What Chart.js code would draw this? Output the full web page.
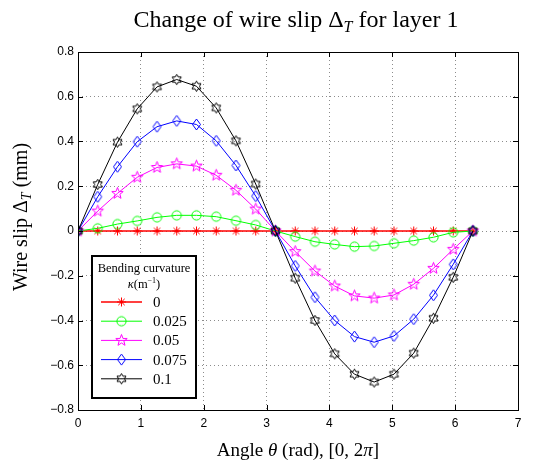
<!DOCTYPE html>
<html>
<head>
<meta charset="utf-8">
<script src="https://cdn.jsdelivr.net/npm/chart.js@4.4.1/dist/chart.umd.min.js"></script>
<style>
  html, body { margin: 0; padding: 0; background: #fff; }
</style>
</head>
<body>
<canvas id="grafico" width="539" height="466"></canvas>
<script>
// angulo theta (rad), 21 pontos em [0, 2pi]
const angulos = [0, 0.314, 0.628, 0.942, 1.257, 1.571, 1.885, 2.199, 2.513, 2.827, 3.142,
  3.456, 3.770, 4.084, 4.398, 4.712, 5.027, 5.341, 5.655, 5.969, 6.283];

// deslizamento do fio (mm) para cada curvatura
const slip0 = [0, 0, 0, 0, 0, 0, 0, 0, 0, 0, 0, 0, 0, 0, 0, 0, 0, 0, 0, 0, 0];
const slip025 = [0, 0.012, 0.031, 0.045, 0.061, 0.07, 0.07, 0.064, 0.046, 0.027, 0,
  -0.025, -0.048, -0.06, -0.07, -0.067, -0.055, -0.043, -0.028, -0.006, 0];
const slip05 = [0, 0.089, 0.168, 0.24, 0.284, 0.30, 0.29, 0.249, 0.182, 0.098, 0,
  -0.092, -0.179, -0.246, -0.29, -0.30, -0.286, -0.238, -0.167, -0.082, 0];
const slip075 = [0, 0.153, 0.287, 0.399, 0.466, 0.492, 0.476, 0.403, 0.293, 0.156, 0,
  -0.156, -0.296, -0.40, -0.472, -0.497, -0.469, -0.394, -0.287, -0.149, 0];
const slip1 = [0, 0.208, 0.397, 0.546, 0.644, 0.677, 0.647, 0.55, 0.403, 0.21, 0,
  -0.211, -0.40, -0.549, -0.64, -0.675, -0.64, -0.546, -0.39, -0.207, 0];

const curvaturas = ['0', '0.025', '0.05', '0.075', '0.1'];
const yTickLabels = ['\u22120.8', '\u22120.6', '\u22120.4', '\u22120.2', '0', '0.2', '0.4', '0.6', '0.8'];

const serif = "'Liberation Serif', 'Times New Roman', serif";
const sans = "'Liberation Sans', Arial, sans-serif";

// marcadores estilo matlab
function marcador(tipo, cor) {
  const c = document.createElement('canvas');
  c.width = c.height = 15;
  const ctx = c.getContext('2d');
  const m = 7.5;
  ctx.strokeStyle = cor;
  ctx.lineWidth = 1;
  ctx.beginPath();
  if (tipo === 'asterisco') {
    const r = 4.5;
    for (let i = 0; i < 4; i++) {
      const a = i * Math.PI / 4;
      ctx.moveTo(m - r * Math.cos(a), m - r * Math.sin(a));
      ctx.lineTo(m + r * Math.cos(a), m + r * Math.sin(a));
    }
  } else if (tipo === 'circulo') {
    ctx.arc(m, m, 4.6, 0, Math.PI * 2);
  } else if (tipo === 'losango') {
    ctx.moveTo(m, m - 5.5); ctx.lineTo(m + 4, m); ctx.lineTo(m, m + 5.5); ctx.lineTo(m - 4, m);
    ctx.closePath();
  } else {
    const pontas = tipo === 'pentagrama' ? 5 : 6;
    const rOut = tipo === 'pentagrama' ? 6 : 5.2;
    const rIn = tipo === 'pentagrama' ? 2.5 : 5.2 / Math.sqrt(3);
    for (let i = 0; i < pontas * 2; i++) {
      const r = i % 2 ? rIn : rOut;
      const a = -Math.PI / 2 + i * Math.PI / pontas;
      ctx.lineTo(m + r * Math.cos(a), m + r * Math.sin(a));
    }
    ctx.closePath();
  }
  ctx.stroke();
  return c;
}

const series = [slip0, slip025, slip05, slip075, slip1];
const cores = ['#ff0000', '#00ff00', '#ff00ff', '#0000ff', '#000000'];
const tipos = ['asterisco', 'circulo', 'pentagrama', 'losango', 'hexagrama'];

const datasets = series.map((s, i) => ({
  label: curvaturas[i],
  data: s.map((v, j) => ({ x: angulos[j], y: v })),
  borderColor: cores[i],
  borderWidth: i === 0 ? 1.5 : 1,
  pointStyle: marcador(tipos[i], cores[i]),
  pointRadius: 5,
  tension: 0,
  order: 4 - i
}));

// texto com partes (subscrito, italico)
function textoPartes(ctx, partes, cx, cy) {
  let total = 0;
  partes.forEach(p => { ctx.font = p.f; p.w = ctx.measureText(p.t).width; total += p.w; });
  let x = cx - total / 2;
  ctx.textBaseline = 'alphabetic';
  ctx.textAlign = 'left';
  partes.forEach(p => {
    ctx.font = p.f;
    ctx.fillText(p.t, x, cy + (p.dy || 0));
    x += p.w;
  });
}

const textos = {
  id: 'textos',
  afterDraw(chart) {
    const ctx = chart.ctx;
    ctx.save();
    ctx.fillStyle = '#000';
    const f24 = '24px ' + serif;
    textoPartes(ctx, [
      { t: 'Change of wire slip ', f: f24 },
      { t: '\u0394', f: f24 },
      { t: 'T', f: 'italic 16px ' + serif, dy: 5 },
      { t: ' for layer 1', f: f24 }
    ], 296, 27);
    const f19 = '19px ' + serif;
    textoPartes(ctx, [
      { t: 'Angle ', f: f19 },
      { t: '\u03b8', f: 'italic 19px ' + serif },
      { t: ' (rad), [0, 2', f: f19 },
      { t: '\u03c0', f: 'italic 19px ' + serif },
      { t: ']', f: f19 }
    ], 298, 456);
    const f20 = '20px ' + serif;
    ctx.translate(27, 217);
    ctx.rotate(-Math.PI / 2);
    textoPartes(ctx, [
      { t: 'Wire slip ', f: f20 },
      { t: '\u0394', f: f20 },
      { t: 'T', f: 'italic 14px ' + serif, dy: 4 },
      { t: ' (mm)', f: f20 }
    ], 0, 0);
    ctx.restore();
  }
};

const moldura = {
  id: 'moldura',
  afterDraw(chart) {
    const { ctx, chartArea: a, scales: { x, y } } = chart;
    ctx.save();
    ctx.strokeStyle = '#000';
    ctx.lineWidth = 1;
    ctx.beginPath();
    x.ticks.forEach(t => {
      const px = Math.round(x.getPixelForValue(t.value)) + 0.5;
      ctx.moveTo(px, a.bottom); ctx.lineTo(px, a.bottom - 5);
      ctx.moveTo(px, a.top); ctx.lineTo(px, a.top + 5);
    });
    y.ticks.forEach(t => {
      const py = Math.round(y.getPixelForValue(t.value)) + 0.5;
      ctx.moveTo(a.left, py); ctx.lineTo(a.left + 5, py);
      ctx.moveTo(a.right, py); ctx.lineTo(a.right - 5, py);
    });
    ctx.stroke();
    ctx.strokeRect(a.left + 0.5, a.top + 0.5, a.right - a.left, a.bottom - a.top);
    ctx.restore();
  }
};

const legenda = {
  id: 'legenda',
  afterDatasetsDraw(chart) {
    const ctx = chart.ctx;
    ctx.save();
    ctx.fillStyle = '#fff';
    ctx.fillRect(92, 256, 104, 142);
    ctx.strokeStyle = '#000';
    ctx.lineWidth = 2;
    ctx.strokeRect(92, 256, 104, 142);
    ctx.fillStyle = '#000';
    ctx.textAlign = 'center';
    ctx.textBaseline = 'alphabetic';
    ctx.font = '12.5px ' + serif;
    ctx.fillText('Bending curvature', 144, 272);
    textoPartes(ctx, [
      { t: '\u03ba', f: 'italic 12.5px ' + serif },
      { t: '(m', f: '12.5px ' + serif },
      { t: '\u22121', f: '8px ' + serif, dy: -5 },
      { t: ')', f: '12.5px ' + serif }
    ], 144, 288);
    chart.data.datasets.forEach((ds, i) => {
      const yy = 302 + i * 19.2;
      ctx.strokeStyle = ds.borderColor;
      ctx.lineWidth = ds.borderWidth;
      ctx.beginPath();
      ctx.moveTo(101, yy); ctx.lineTo(142, yy);
      ctx.stroke();
      const img = ds.pointStyle;
      ctx.drawImage(img, 121.5 - img.width / 2, yy - img.height / 2);
      ctx.fillStyle = '#000';
      ctx.textAlign = 'left';
      ctx.textBaseline = 'middle';
      ctx.font = '15px ' + serif;
      ctx.fillText(ds.label, 153, yy + 1);
    });
    ctx.restore();
  }
};

const grafico = new Chart(document.getElementById('grafico'), {
  type: 'line',
  data: { datasets: datasets },
  plugins: [legenda, moldura, textos],
  options: {
    responsive: false,
    animation: false,
    layout: { padding: { left: 0, right: 21, top: 52, bottom: 0 } },
    scales: {
      x: {
        type: 'linear',
        min: 0,
        max: 7,
        ticks: { stepSize: 1, color: '#000', font: { family: sans, size: 12 }, padding: 6, maxRotation: 0 },
        grid: { color: '#8c8c8c', lineWidth: 1, drawTicks: false },
        border: { display: false, dash: [1, 3] },
        afterFit(scale) { scale.height = 56; }
      },
      y: {
        min: -0.8,
        max: 0.8,
        ticks: {
          stepSize: 0.2,
          color: '#000',
          font: { family: sans, size: 12 },
          padding: 4,
          callback: (v, i) => yTickLabels[i]
        },
        grid: { color: '#8c8c8c', lineWidth: 1, drawTicks: false },
        border: { display: false, dash: [1, 3] },
        afterFit(scale) { scale.width = 78; }
      }
    },
    plugins: {
      legend: { display: false },
      tooltip: { enabled: false }
    }
  }
});
</script>
</body>
</html>
